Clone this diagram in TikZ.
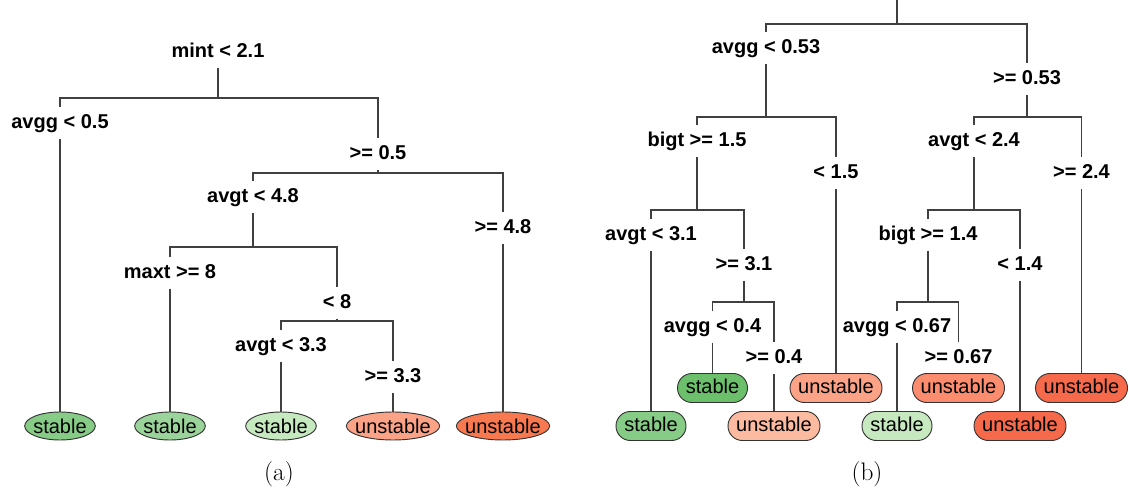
\documentclass[tikz,border=0pt]{standalone}
\usepackage{fontspec}
\setsansfont{Liberation Sans}
\usetikzlibrary{shapes.geometric}

\definecolor{gnA}{HTML}{6CC06C}
\definecolor{gnB}{HTML}{86CB86}
\definecolor{gnC}{HTML}{9AD49A}
\definecolor{gnD}{HTML}{C7E9C0}
\definecolor{rdA}{HTML}{FCBBA1}
\definecolor{rdB}{HTML}{FCA287}
\definecolor{rdC}{HTML}{FC8C6E}
\definecolor{rdD}{HTML}{F66A4B}
\definecolor{rdE}{HTML}{F8784F}

\begin{document}
\begin{tikzpicture}[x=0.75pt, y=-0.75pt,
  edge/.style={draw=black!75, line width=0.9pt},
  split/.style={fill=white, font=\sffamily\bfseries\fontsize{15}{18}\selectfont,
    inner xsep=1.5pt, inner ysep=4.5pt, text height=11pt, text depth=3pt},
  leaftext/.style={font=\sffamily\fontsize{15}{18}\selectfont, inner sep=0pt},
  leaf/.style={draw=black!80, line width=0.7pt, fill=#1, inner sep=0pt},
  oval/.style={leaf=#1, ellipse, minimum height=21pt},
  pill/.style={leaf=#1, leaftext, rounded corners=10.8pt, minimum height=21.75pt,
    text height=11pt, text depth=3pt},
  caption/.style={font=\rmfamily\fontsize{19}{23}\selectfont}]
  \useasboundingbox (0,0) rectangle (1129,495);

  % (a) splits
  \node[split] (r)  at (218,52)  {mint < 2.1};
  \node[split] (a1) at (60,123)  {avgg < 0.5};
  \node[split] (a2) at (378,154) {>= 0.5};
  \node[split] (a3) at (253,197) {avgt < 4.8};
  \node[split] (a4) at (503,228) {>= 4.8};
  \node[split] (a5) at (170,273) {maxt >= 8};
  \node[split] (a6) at (337,303) {< 8};
  \node[split] (a7) at (281,346) {avgt < 3.3};
  \node[split] (a8) at (393,377) {>= 3.3};

  % (a) leaves
  \node[oval=gnB, minimum width=53pt, label={[leaftext]center:stable}]   (la) at (60,426)  {};
  \node[oval=gnC, minimum width=53pt, label={[leaftext]center:stable}]   (lb) at (170,426) {};
  \node[oval=gnD, minimum width=53pt, label={[leaftext]center:stable}]   (lc) at (281,426) {};
  \node[oval=rdB, minimum width=70pt, label={[leaftext]center:unstable}] (ld) at (393,426) {};
  \node[oval=rdE, minimum width=70pt, label={[leaftext]center:unstable}] (le) at (503,426) {};

  % (a) branches
  \draw[edge] (r) -- (r |- 0,98);
  \draw[edge] (a1) |- (r |- 0,98) -| (a2);
  \draw[edge] (a1) -- (la);
  \draw[edge] (a2) -- (a2 |- 0,173);
  \draw[edge] (a3) |- (a2 |- 0,173) -| (a4);
  \draw[edge] (a4) -- (le);
  \draw[edge] (a3) -- (a3 |- 0,247);
  \draw[edge] (a5) |- (a3 |- 0,247) -| (a6);
  \draw[edge] (a5) -- (lb);
  \draw[edge] (a6) -- (a6 |- 0,321);
  \draw[edge] (a7) |- (a6 |- 0,321) -| (a8);
  \draw[edge] (a7) -- (lc);
  \draw[edge] (a8) -- (ld);

  % (b) splits
  \coordinate (t) at (897,0);
  \node[split] (b1)  at (766,48)    {avgg < 0.53};
  \node[split] (b2)  at (1027,79)   {>= 0.53};
  \node[split] (b3)  at (697,141)   {bigt >= 1.5};
  \node[split] (b4)  at (836,173)   {< 1.5};
  \node[split] (b5)  at (974,141)   {avgt < 2.4};
  \node[split] (b6)  at (1081.5,173) {>= 2.4};
  \node[split] (b7)  at (651,235)   {avgt < 3.1};
  \node[split] (b8)  at (744,265)   {>= 3.1};
  \node[split] (b9)  at (712.5,327) {avgg < 0.4};
  \node[split] (b10) at (774,358)   {>= 0.4};
  \node[split] (b11) at (928,235)   {bigt >= 1.4};
  \node[split] (b12) at (1020,265)  {< 1.4};
  \node[split] (b13) at (897,327)   {avgg < 0.67};
  \node[split] (b14) at (958.5,358) {>= 0.67};

  % (b) leaves
  \node[pill=gnB, minimum width=52.5pt] (l7)  at (651,426)    {stable};
  \node[pill=gnA, minimum width=52.5pt] (l9)  at (712.5,388)  {stable};
  \node[pill=rdA, minimum width=69pt]   (l10) at (774,426)    {unstable};
  \node[pill=rdB, minimum width=69pt]   (l4)  at (836,388)    {unstable};
  \node[pill=gnD, minimum width=52.5pt] (l13) at (897,426)    {stable};
  \node[pill=rdC, minimum width=69pt]   (l14) at (958.5,388)  {unstable};
  \node[pill=rdD, minimum width=69pt]   (l12) at (1020,426)   {unstable};
  \node[pill=rdD, minimum width=69pt]   (l6)  at (1081.5,388) {unstable};

  % (b) branches
  \draw[edge] (t) -- (t |- 0,24);
  \draw[edge] (b1) |- (t |- 0,24) -| (b2);
  \draw[edge] (b1) -- (b1 |- 0,117);
  \draw[edge] (b3) |- (b1 |- 0,117) -| (b4);
  \draw[edge] (b4) -- (l4);
  \draw[edge] (b2) -- (b2 |- 0,117);
  \draw[edge] (b5) |- (b2 |- 0,117) -| (b6);
  \draw[edge] (b6) -- (l6);
  \draw[edge] (b3) -- (b3 |- 0,210);
  \draw[edge] (b7) |- (b3 |- 0,210) -| (b8);
  \draw[edge] (b7) -- (l7);
  \draw[edge] (b8) -- (b8 |- 0,302);
  \draw[edge] (b9) |- (b8 |- 0,302) -| (b10);
  \draw[edge] (b9) -- (l9);
  \draw[edge] (b10) -- (l10);
  \draw[edge] (b5) -- (b5 |- 0,210);
  \draw[edge] (b11) |- (b5 |- 0,210) -| (b12);
  \draw[edge] (b12) -- (l12);
  \draw[edge] (b11) -- (b11 |- 0,302);
  \draw[edge] (b13) |- (b11 |- 0,302) -| (b14);
  \draw[edge] (b13) -- (l13);
  \draw[edge] (b14) -- (l14);

  % captions
  \node[caption] (capa) at (279,474) {(a)};
  \node[caption] (capb) at (867,474) {(b)};
\end{tikzpicture}
\end{document}
